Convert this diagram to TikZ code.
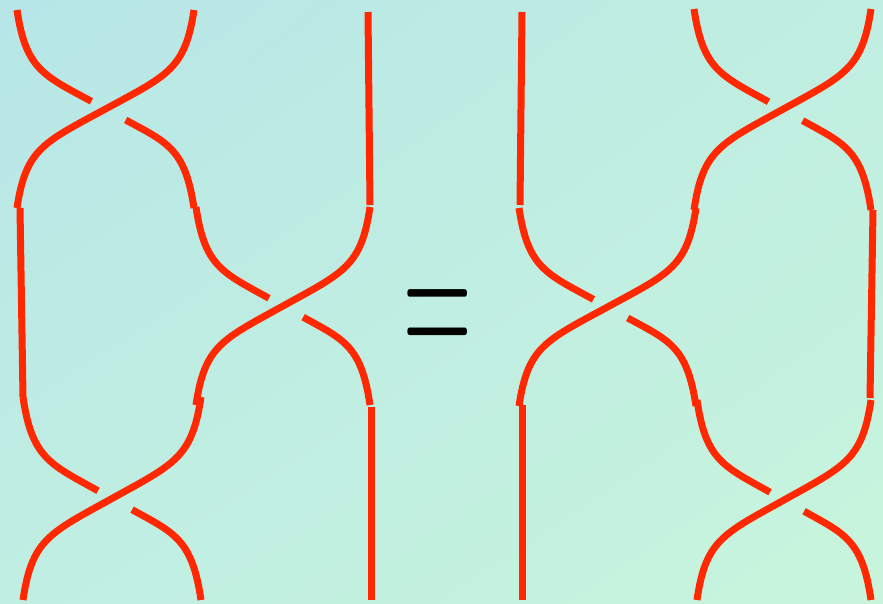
\documentclass[tikz,border=0pt]{standalone}
\usepackage{tikz}
\usetikzlibrary{shadings}

\definecolor{strandred}{RGB}{255,40,0}
\definecolor{bgtl}{RGB}{183,230,232}
\definecolor{bgtr}{RGB}{192,238,225}
\definecolor{bgbl}{RGB}{192,238,226}
\definecolor{bgbr}{RGB}{200,245,220}

\begin{document}
\begin{tikzpicture}[x=1pt,y=-1pt,
  strand/.style={line width=7pt,draw=strandred,line cap=butt},
  crossing/.pic={
    % over strand: top right to bottom left
    \draw[strand] (1,0) .. controls (0.95,0.3) and (0.85,0.33) .. (0.5,0.5)
                        .. controls (0.15,0.67) and (0.05,0.7) .. (0,1);
    % under strand, broken
    \draw[strand,shorten >=16pt] (0,0) .. controls (0.05,0.3) and (0.15,0.33) .. (0.5,0.5);
    \draw[strand,shorten <=23pt] (0.5,0.5) .. controls (0.85,0.67) and (0.95,0.7) .. (1,1);
  }]

% ---- background ----
\useasboundingbox (0,0) rectangle (883,603);
\shade[upper left=bgtl,upper right=bgtr,lower left=bgbl,lower right=bgbr] (0,0) rectangle (883,603);

% ---- left braid ----
\pic[shift={(17,10)},xscale=177,yscale=198] {crossing};
\pic[shift={(196,207)},xscale=174,yscale=198] {crossing};
\pic[shift={(23,397)},xscale=178,yscale=203] {crossing};
\draw[strand] (368,12) -- (370,205);
\draw[strand] (20,208) -- (23,397);
\draw[strand] (371,407) -- (371,600);

% ---- equals ----
\node[inner sep=0pt] (eq) at (438,328) {\scalebox{0.44}[1]{\fontsize{216}{216}\selectfont =}};

% ---- right braid ----
\pic[shift={(694,9)},xscale=177,yscale=201] {crossing};
\pic[shift={(519,208)},xscale=177,yscale=198] {crossing};
\pic[shift={(697,400)},xscale=174,yscale=200] {crossing};
\draw[strand] (522,12) -- (520,205);
\draw[strand] (873,210) -- (870,398);
\draw[strand] (522,405) -- (522,600);
\end{tikzpicture}
\end{document}
